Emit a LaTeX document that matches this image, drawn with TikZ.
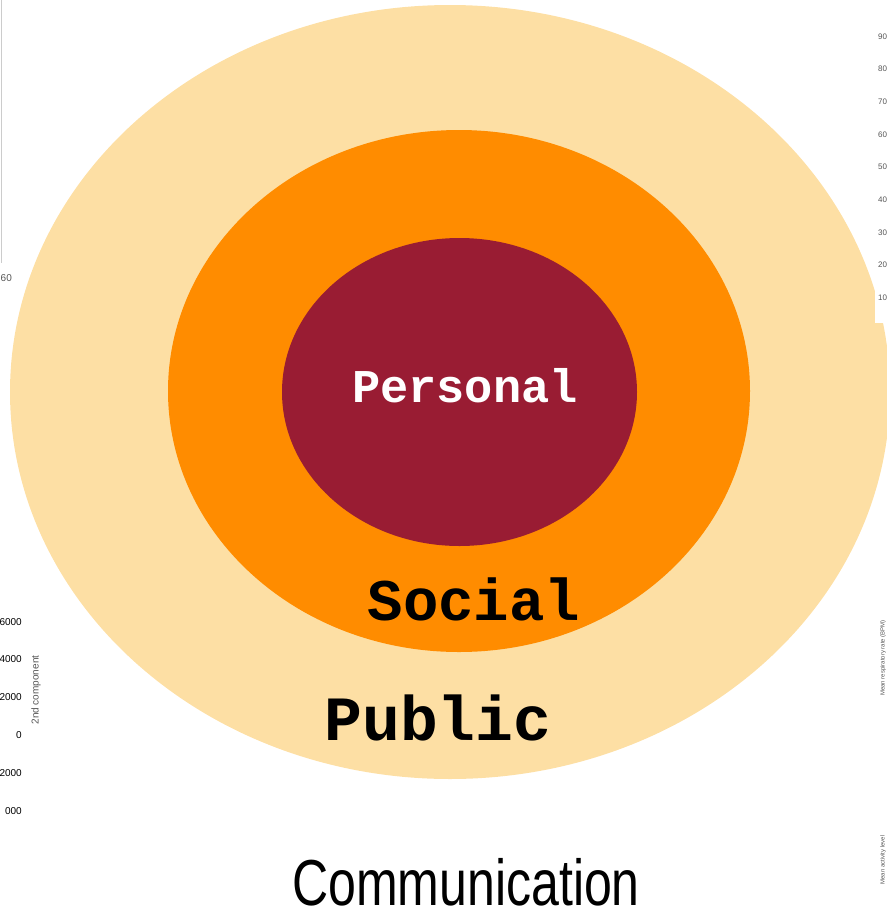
\documentclass[tikz,border=0pt]{standalone}
\usepackage{fontspec}
\setmainfont{Liberation Sans}
\newfontfamily\zonefont{Liberation Mono}
\usetikzlibrary{shapes.geometric}

\definecolor{publiczone}{HTML}{FDDFA4}
\definecolor{socialzone}{HTML}{FF8C00}
\definecolor{personalzone}{HTML}{991C33}
\definecolor{axisgrey}{HTML}{555555}

\tikzset{
	zone/.style={ellipse, inner sep=0pt, minimum width=#1},
	zonelabel/.style={anchor=base, inner sep=0pt, font=\zonefont\bfseries},
	tick/.style={anchor=base west, inner sep=0pt, text=axisgrey, font=\fontsize{8}{8}\selectfont},
	axislabel/.style={rotate=90, inner sep=0pt, text=axisgrey}
}

\begin{document}
\begin{tikzpicture}[x=1pt, y=-1pt]
	\useasboundingbox (0,0) rectangle (887,914);

	% three nested zones
	\node[zone=880pt, minimum height=774pt, fill=publiczone] (public) at (450,392) {};
	\node[zone=582pt, minimum height=522pt, fill=socialzone] (social) at (459,391) {};
	\node[zone=355pt, minimum height=308pt, fill=personalzone] (personal) at (459.5,392) {};

	% leftover of the chart on the right
	\fill[white] (875,0) rectangle (890,323);
	\foreach \v [count=\i from 0] in {90,80,70,60,50,40,30,20,10}
		\node[tick] (rtick\i) at (878,{39+32.7*\i}) {\v};

	% leftover of the chart on the left
	\coordinate (axtop) at (1,0);
	\coordinate (axbot) at (1,263);
	\draw[black!20, line width=1pt] (axtop) -- (axbot);
	\node[tick, font=\fontsize{10}{10}\selectfont] (ltick) at (0.5,281) {60};

	\foreach \v [count=\i from 0] in {6000,4000,2000,0,2000,000}
		\node[anchor=base east, inner sep=0pt, font=\fontsize{10}{10}\selectfont] (btick\i) at (22,{625+37.8*\i}) {\v};
	\node[axislabel, font=\fontsize{10}{10}\selectfont] (comp) at (36,690) {2nd component};

	\node[axislabel, font=\fontsize{6}{6}\selectfont] (resp) at (883,658) {Mean respiratory rate (BPM)};
	\node[axislabel, font=\fontsize{6}{6}\selectfont] (act) at (883,860) {Mean activity level};

	% zone names
	\node[zonelabel, text=white, font=\zonefont\bfseries\fontsize{47}{47}\selectfont] (perstext) at (465,402) {Personal};
	\node[zonelabel, font=\zonefont\bfseries\fontsize{59}{59}\selectfont] (soctext) at (474,620) {Social};
	\node[zonelabel, font=\zonefont\bfseries\fontsize{63}{63}\selectfont] (pubtext) at (438,740) {Public};

	\node[anchor=base, inner sep=0pt, font=\fontsize{65}{65}\selectfont] (title) at (466,905)
		{\scalebox{0.77}[1]{Communication}};
\end{tikzpicture}
\end{document}
